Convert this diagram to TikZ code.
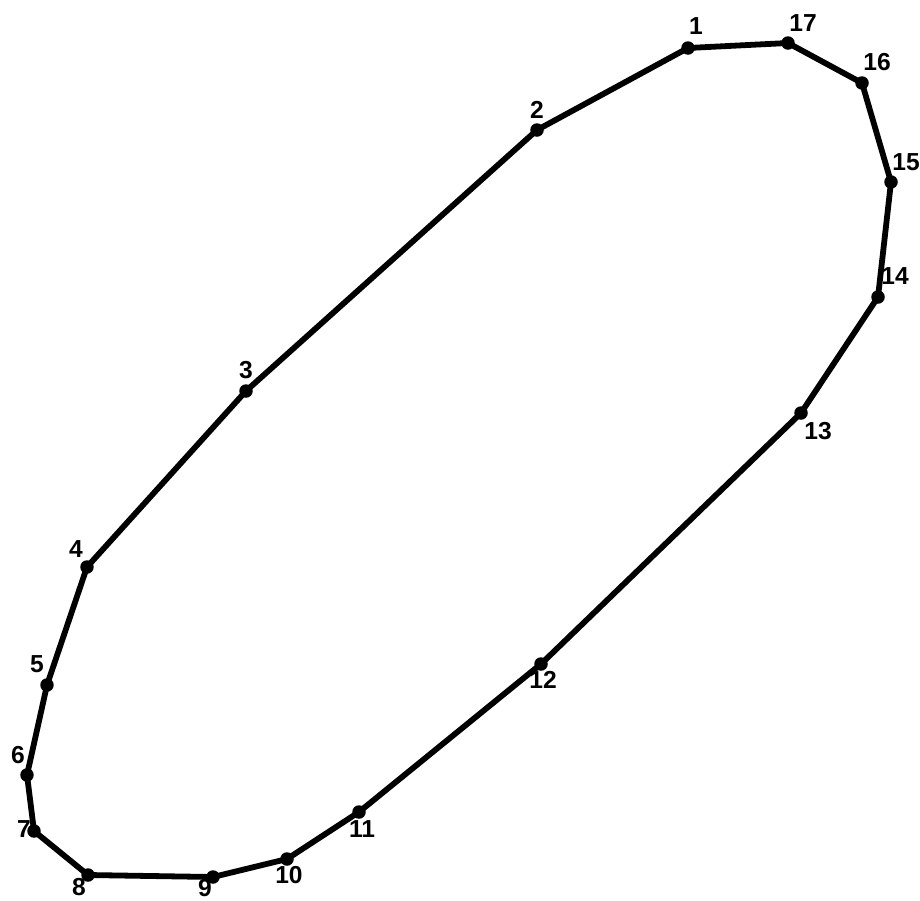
\documentclass[tikz,border=0pt]{standalone}
\usepackage{fontspec}
\setmainfont{Liberation Sans}
\usepackage{tikz}
\usetikzlibrary{positioning}

\begin{document}
\begin{tikzpicture}[
        x={(0.02cm,0)},
        y={(0,-0.02cm)},
        dot/.style={
            circle,
            fill=black,
            inner sep=0pt,
            minimum size=0.27cm
        },
        lbl/.style={
            inner sep=0pt,
            font=\fontsize{14}{16}\selectfont\bfseries
        },
        edge/.style={
            line width=3.3pt,
            line cap=round,
            line join=round
        }
    ]

    \useasboundingbox (0,0) rectangle (920,900);

    % points
    \node[dot] (p1) at (688,48) {};
    \node[dot] (p2) at (537,130) {};
    \node[dot] (p3) at (246,391) {};
    \node[dot] (p4) at (87,567) {};
    \node[dot] (p5) at (47,685) {};
    \node[dot] (p6) at (27,775) {};
    \node[dot] (p7) at (34,831) {};
    \node[dot] (p8) at (88,875) {};
    \node[dot] (p9) at (213,877) {};
    \node[dot] (p10) at (287,859) {};
    \node[dot] (p11) at (359,812) {};
    \node[dot] (p12) at (541,664) {};
    \node[dot] (p13) at (801,413) {};
    \node[dot] (p14) at (878,297) {};
    \node[dot] (p15) at (891,182) {};
    \node[dot] (p16) at (862,83) {};
    \node[dot] (p17) at (788,43) {};

    % labels
    \node[lbl] (l1) at (696,26) {1};
    \node[lbl] (l2) at (537,110) {2};
    \node[lbl] (l3) at (246,370) {3};
    \node[lbl] (l4) at (76,549) {4};
    \node[lbl] (l5) at (37,664) {5};
    \node[lbl] (l6) at (18,755) {6};
    \node[lbl] (l7) at (24,829) {7};
    \node[lbl] (l8) at (79,887) {8};
    \node[lbl] (l9) at (205,888) {9};
    \node[lbl] (l10) at (289,875) {10};
    \node[lbl] (l11) at (362,829) {11};
    \node[lbl] (l12) at (543,680) {12};
    \node[lbl] (l13) at (818,431) {13};
    \node[lbl] (l14) at (895,276) {14};
    \node[lbl] (l15) at (906,162) {15};
    \node[lbl] (l16) at (877,62) {16};
    \node[lbl] (l17) at (803,23) {17};

    % outline
    \draw[edge] (p1.center) -- (p2.center) -- (p3.center) -- (p4.center)
        -- (p5.center) -- (p6.center) -- (p7.center) -- (p8.center)
        -- (p9.center) -- (p10.center) -- (p11.center) -- (p12.center)
        -- (p13.center) -- (p14.center) -- (p15.center) -- (p16.center)
        -- (p17.center) -- cycle;

\end{tikzpicture}
\end{document}
